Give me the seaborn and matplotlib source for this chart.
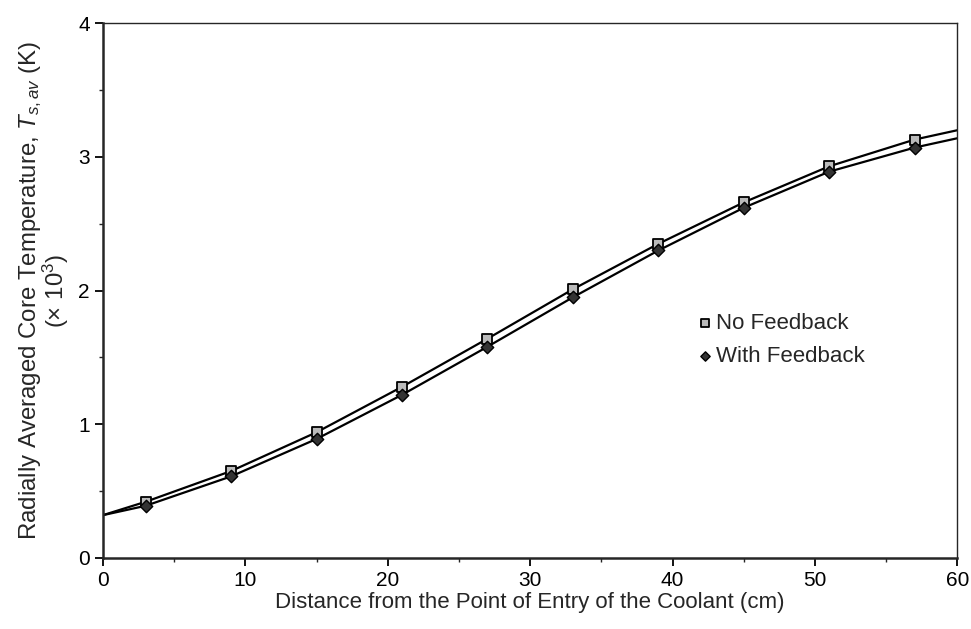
import matplotlib
matplotlib.use('Agg')
import matplotlib.pyplot as plt
import seaborn as sns
import pandas as pd
from matplotlib.ticker import MultipleLocator

# values (x in cm, T in K x 10^3)
x_cm = [0, 3, 9, 15, 21, 27, 33, 39, 45, 51, 57, 60]
no_feedback = [0.32, 0.42, 0.65, 0.94, 1.28, 1.64, 2.01, 2.35, 2.66, 2.93, 3.13, 3.20]
with_feedback = [0.32, 0.39, 0.61, 0.89, 1.22, 1.58, 1.95, 2.30, 2.62, 2.89, 3.07, 3.14]

# markers only sit at the interior points
marker_idx = list(range(1, 11))

df = pd.DataFrame({
    'x': x_cm * 2,
    'T': no_feedback + with_feedback,
    'series': ['No Feedback'] * len(x_cm) + ['With Feedback'] * len(x_cm),
})

sns.set_style('ticks')
plt.rcParams['font.family'] = ['Liberation Sans', 'DejaVu Sans']
plt.rcParams['mathtext.fontset'] = 'custom'
plt.rcParams['mathtext.it'] = 'Liberation Sans:italic'
plt.rcParams['mathtext.rm'] = 'Liberation Sans'

fig = plt.figure(figsize=(9.71, 6.29), dpi=100)
ax = fig.add_axes([0.106, 0.113, 0.880, 0.850])

sns.lineplot(data=df, x='x', y='T', units='series', estimator=None,
             color='black', linewidth=1.6, legend=False, ax=ax)

pts = df[df['x'].isin([x_cm[i] for i in marker_idx])]
nf = pts[pts['series'] == 'No Feedback']
wf = pts[pts['series'] == 'With Feedback']
sns.scatterplot(data=nf, x='x', y='T', marker='s', s=55, facecolor='#bbbbbb',
                edgecolor='black', linewidth=1.3, label='No Feedback', ax=ax, zorder=3)
sns.scatterplot(data=wf, x='x', y='T', marker='D', s=40, facecolor='#333333',
                edgecolor='black', linewidth=1.0, label='With Feedback', ax=ax, zorder=3)

ax.set_xlim(0, 60)
ax.set_ylim(0, 4)
ax.xaxis.set_major_locator(MultipleLocator(10))
ax.xaxis.set_minor_locator(MultipleLocator(5))
ax.yaxis.set_major_locator(MultipleLocator(1))
ax.yaxis.set_minor_locator(MultipleLocator(0.5))
ax.tick_params(which='major', direction='out', length=6, width=1.3, labelsize=15, colors='black')
ax.tick_params(which='minor', direction='out', length=3, width=1.0)

for side in ['left', 'bottom']:
    ax.spines[side].set_linewidth(1.8)
for side in ['top', 'right']:
    ax.spines[side].set_linewidth(1.0)
    ax.spines[side].set_visible(True)

ax.set_xlabel('Distance from the Point of Entry of the Coolant (cm)', fontsize=16, labelpad=1)
ax.set_ylabel('Radially Averaged Core Temperature, $T_{s,av}$ (K)\n(× 10$^3$)',
              fontsize=17.3, labelpad=5, linespacing=0.85)

ax.legend(loc='upper left', bbox_to_anchor=(0.685, 0.475), frameon=False,
          fontsize=16, handletextpad=0.15, labelspacing=0.55, borderaxespad=0,
          handlelength=0.7, markerscale=0.75)

fig.savefig('out.png', dpi=100)
